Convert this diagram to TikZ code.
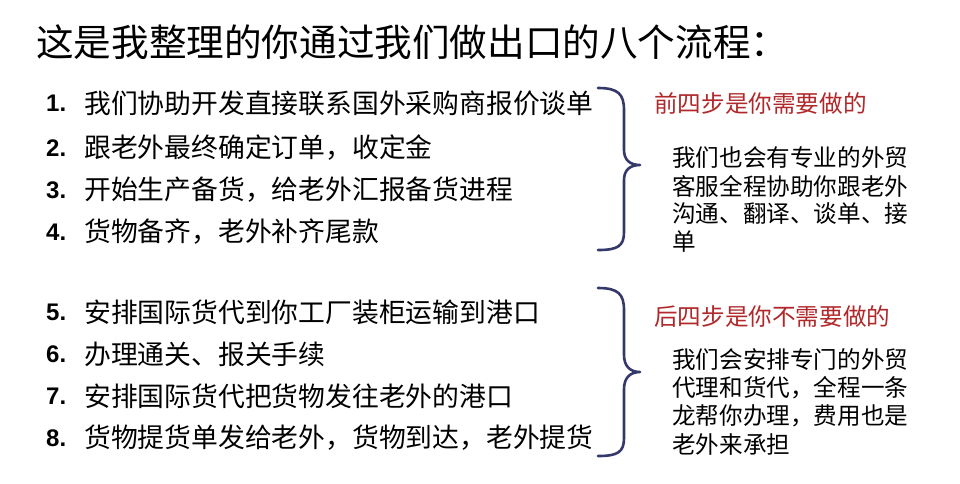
\documentclass[tikz,border=0pt]{standalone}
\usepackage{fontspec}
\setmainfont{Liberation Sans}
\newfontfamily\cjk{Noto Sans CJK SC}
\begin{document}
\begin{tikzpicture}[x=1pt,y=-1pt,
  item/.style={anchor=west,inner sep=0,font=\cjk\fontsize{26.8}{30}\selectfont},
  num/.style={anchor=west,inner sep=0,font=\bfseries\fontsize{24}{28}\selectfont},
  red/.style={anchor=west,inner sep=0,text=redtxt,font=\cjk\fontsize{23.6}{27}\selectfont},
  note/.style={anchor=west,inner sep=0,font=\cjk\fontsize{23.6}{27}\selectfont},
  bracestyle/.style={draw=navy,line width=2.6pt,line cap=round,line join=round}]
\definecolor{navy}{HTML}{34386A}
\definecolor{redtxt}{HTML}{B0282A}
\useasboundingbox[fill=white] (0,0) rectangle (960,483);
\node[anchor=west,inner sep=0,font=\cjk\fontsize{37.6}{42}\selectfont] (title) at (36,42) {这是我整理的你通过我们做出口的八个流程：};
\foreach \n/\y/\t in {1/103/我们协助开发直接联系国外采购商报价谈单,2/148/跟老外最终确定订单，收定金,3/190/开始生产备货，给老外汇报备货进程,4/232/货物备齐，老外补齐尾款,5/312/安排国际货代到你工厂装柜运输到港口,6/354/办理通关、报关手续,7/396/安排国际货代把货物发往老外的港口,8/438/货物提货单发给老外，货物到达，老外提货}{
  \node[num] (n\n) at (46,\y) {\n.};
  \node[item] (t\n) at (84,\y) {\t};
}
\draw[bracestyle] (598,88) .. controls (618,88) and (624,94) .. (624,110) -- (624,150) .. controls (624,160) and (630,165) .. (640,165) .. controls (630,165) and (624,170) .. (624,180) -- (624,232) .. controls (624,246) and (618,250) .. (598,250);
\draw[bracestyle] (598,288) .. controls (618,288) and (624,294) .. (624,310) -- (624,355) .. controls (624,366) and (630,372) .. (640,372) .. controls (630,372) and (624,378) .. (624,389) -- (624,438) .. controls (624,452) and (618,456) .. (598,456);
\node[red] (r1) at (654,103) {前四步是你需要做的};
\foreach \i/\y/\t in {a/158/我们也会有专业的外贸,b/186/客服全程协助你跟老外,c/214/沟通、翻译、谈单、接,d/242/单}{
  \node[note] (p\i) at (672,\y) {\t};}
\node[red] (r2) at (654,316) {后四步是你不需要做的};
\foreach \i/\y/\t in {a/360/我们会安排专门的外贸,b/388/代理和货代，全程一条,c/416/龙帮你办理，费用也是,d/444/老外来承担}{
  \node[note] (q\i) at (672,\y) {\t};}
\end{tikzpicture}
\end{document}
